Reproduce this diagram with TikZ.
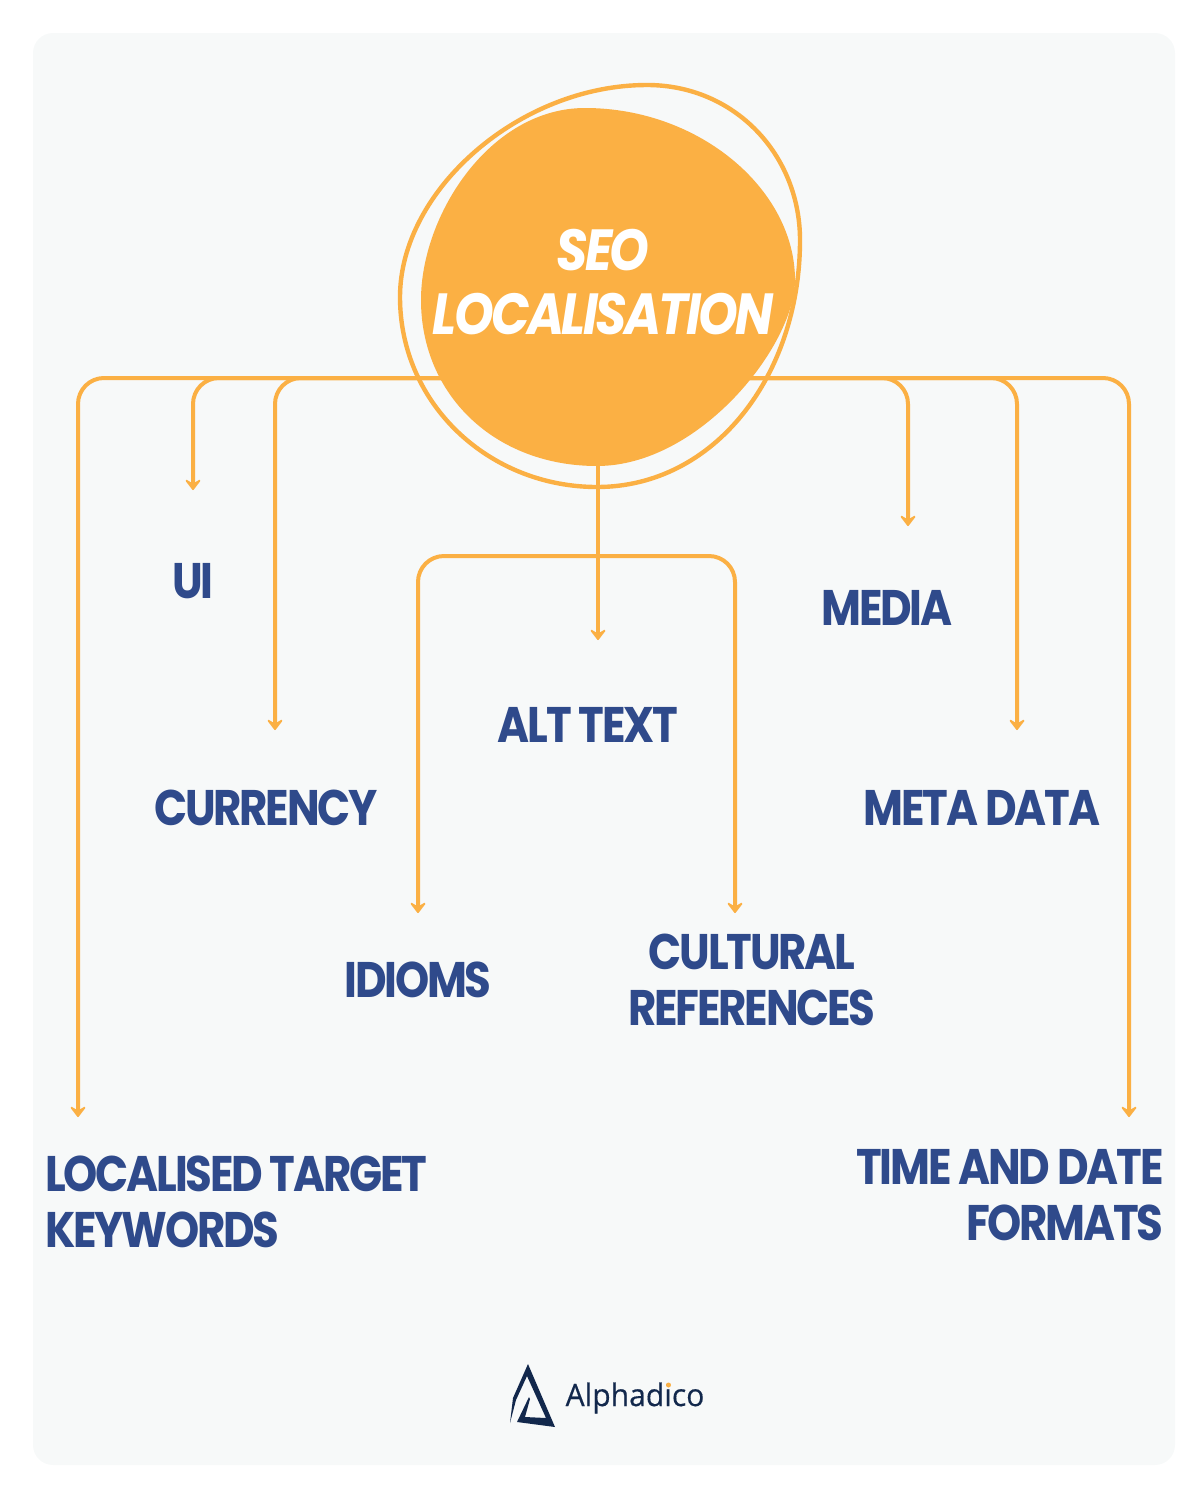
\documentclass[tikz,border=0pt]{standalone}
\usepackage{fontspec}
\usepackage{xcolor}
\usepackage{tikz}
\usetikzlibrary{arrows.meta}
\setmainfont{Poppins}[LetterSpace=-4.5,FakeStretch=.87,BoldFont={Poppins Bold},BoldItalicFont={Poppins Bold Italic}]
\newfontfamily\logofont{Open Sans}[FakeStretch=.97,FakeBold=.4]
\definecolor{pagegrey}{HTML}{F7F9F9}
\definecolor{hubcolor}{HTML}{FBB044}
\definecolor{labelcolor}{HTML}{2F4A8B}
\definecolor{logocolor}{HTML}{12284C}
\tikzstyle{head}=[>/.tip={Stealth[length=6.5pt,width=10pt,inset=3pt,round]}]
\tikzstyle{link}=[draw=hubcolor,line width=2pt,rounded corners=13pt]
\tikzstyle{arrow}=[link,head,->]
\tikzstyle{topic}=[text=labelcolor,font=\bfseries\fontsize{25}{28}\selectfont,inner sep=0pt]
\begin{document}
\begin{tikzpicture}[x=.5pt,y=-.5pt]
	\useasboundingbox (0,0) rectangle (1200,1500);
	\fill[pagegrey,rounded corners=10pt] (33,33) rectangle (1175,1465);
	% hub
	\coordinate (hubL) at (445,378);
	\coordinate (hubR) at (740,378);
	\coordinate (hubB) at (598,460);
	\coordinate (altfork) at (598,556);
	\coordinate (keytip) at (78,1117);
	\coordinate (uitip) at (193,490);
	\coordinate (curtip) at (275,730);
	\coordinate (idiomtip) at (418,913);
	\coordinate (alttip) at (598,640);
	\coordinate (cultip) at (735,913);
	\coordinate (mediatip) at (908,526);
	\coordinate (metatip) at (1017,730);
	\coordinate (timetip) at (1129,1117);
	\draw[arrow] (hubL) -| (keytip);
	\draw[arrow] (hubL) -| (uitip);
	\draw[arrow] (hubL) -| (curtip);
	\draw[arrow] (hubR) -| (mediatip);
	\draw[arrow] (hubR) -| (metatip);
	\draw[arrow] (hubR) -| (timetip);
	\draw[arrow] (hubB) -- (alttip);
	\draw[arrow] (altfork) -| (idiomtip);
	\draw[arrow] (altfork) -| (cultip);
	\fill[hubcolor] (585,108) .. controls (700,108) and (795,190) .. (795,280) .. controls (795,345) and (700,466) .. (597,466) .. controls (495,466) and (421,395) .. (421,300) .. controls (421,215) and (490,108) .. (585,108) -- cycle;
	\draw[hubcolor,line width=2.2pt] (647,85) .. controls (735,85) and (800,155) .. (800,240) .. controls (800,375) and (715,487) .. (597,487) .. controls (490,487) and (400,405) .. (400,297) .. controls (400,190) and (520,85) .. (647,85) -- cycle;
	\node[text=white,font=\itshape\bfseries\fontsize{29}{32}\selectfont,align=center,inner sep=0pt] (seo) at (603,282) {SEO\\LOCALISATION};
	% labels
	\node[topic] (ui) at (193,581) {UI};
	\node[topic] (currency) at (266,808) {CURRENCY};
	\node[topic] (idioms) at (418,980) {IDIOMS};
	\node[topic] (alt) at (588,725) {ALT TEXT};
	\node[topic] (media) at (887,608) {MEDIA};
	\node[topic] (meta) at (982,808) {META DATA};
	\node[topic,align=center] (cultural) at (752,980) {CULTURAL\\REFERENCES};
	\node[topic,align=left,anchor=west] (keywords) at (45,1202) {LOCALISED TARGET\\KEYWORDS};
	\node[topic,align=right,anchor=east] (time) at (1164,1195) {TIME AND DATE\\FORMATS};
	% logo
	\fill[logocolor] (528,1364) -- (555,1427) -- (517,1422) -- (529,1397) -- (530,1399) -- (525,1417) -- (546,1418) -- (527,1376) -- (516,1400) -- (510,1423) -- (513,1398) -- cycle;
	\node[text=logocolor,font=\logofont\fontsize{15.5}{20}\selectfont,inner sep=0pt] (brand) at (635,1398) {Alphadico};
	\fill[hubcolor] (668.5,1385) circle (2.5);
\end{tikzpicture}
\end{document}
